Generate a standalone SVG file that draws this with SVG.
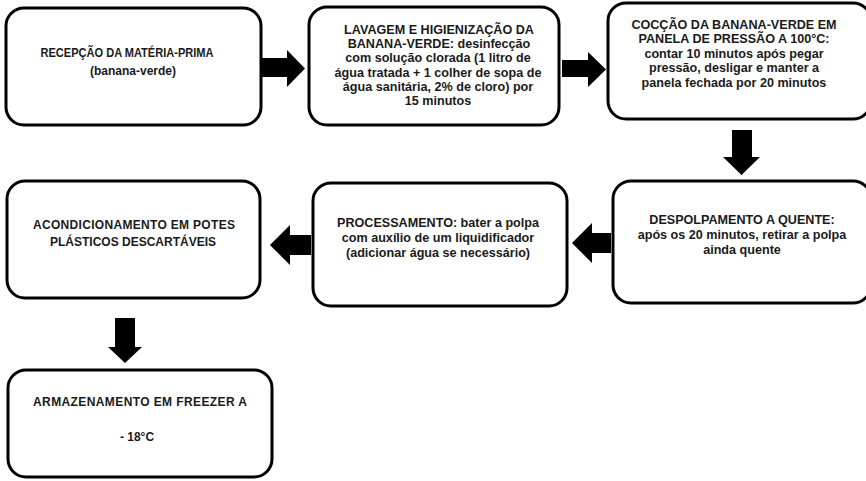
<svg xmlns="http://www.w3.org/2000/svg" width="866" height="481" viewBox="0 0 866 481">
<style>
.box{fill:#fff;stroke:#000;stroke-width:3}
text{font-family:"Liberation Sans",Arial,sans-serif;font-weight:bold;font-size:12.6px;fill:#1a1a1a;text-anchor:middle}
.s{font-size:12px}
.arr{fill:#000}
</style>
<rect width="866" height="481" fill="#fff"/>
<g id="n1"><rect class="box" x="6" y="8" width="255" height="117" rx="18"/>
<text class="s" x="127" y="57" textLength="173" lengthAdjust="spacingAndGlyphs">RECEPÇÃO DA MATÉRIA-PRIMA</text>
<text class="s" x="133" y="75">(banana-verde)</text></g>
<g id="n2"><rect class="box" x="309" y="7" width="250" height="118" rx="18"/>
<text x="439" y="34">LAVAGEM  E  HIGIENIZAÇÃO  DA</text>
<text x="439" y="48">BANANA-VERDE: desinfecção</text>
<text x="438" y="62">com solução clorada (1 litro de</text>
<text x="438" y="77">água tratada + 1 colher de sopa de</text>
<text x="438" y="91">água sanitária, 2% de cloro) por</text>
<text x="438" y="105">15 minutos</text></g>
<g id="n3"><rect class="box" x="608" y="3" width="263" height="116" rx="18"/>
<text x="734" y="29">COCÇÃO DA BANANA-VERDE EM</text>
<text x="734" y="43">PANELA DE PRESSÃO A 100°C:</text>
<text x="734" y="58">contar 10 minutos após pegar</text>
<text x="734" y="72">pressão, desligar e manter a</text>
<text x="734" y="87">panela fechada por 20 minutos</text></g>
<g id="n4"><rect class="box" x="7" y="181" width="253" height="117" rx="18"/>
<text class="s" x="134" y="229" textLength="202" lengthAdjust="spacing">ACONDICIONAMENTO  EM POTES</text>
<text class="s" x="133" y="246">PLÁSTICOS  DESCARTÁVEIS</text></g>
<g id="n5"><rect class="box" x="313" y="183" width="254" height="123" rx="18"/>
<text x="438" y="227">PROCESSAMENTO:  bater a polpa</text>
<text x="438" y="242">com auxílio de um liquidificador</text>
<text x="438" y="257">(adicionar água se necessário)</text></g>
<g id="n6"><rect class="box" x="613" y="181" width="258" height="122" rx="18"/>
<text x="742" y="224">DESPOLPAMENTO  A QUENTE:</text>
<text x="742" y="239">após os 20 minutos, retirar a polpa</text>
<text x="742" y="254">ainda quente</text></g>
<g id="n7"><rect class="box" x="8" y="370" width="264" height="107" rx="18"/>
<text class="s" x="140" y="406" textLength="214" lengthAdjust="spacing">ARMAZENAMENTO  EM FREEZER  A</text>
<text class="s" x="137" y="441">- 18°C</text></g>
<g id="connectors">
<polygon class="arr" points="262,58 287,58 287,50 305,68.5 287,87 287,77 262,77"/>
<polygon class="arr" points="562,60 588,60 588,52 606,69.5 588,87 588,77 562,77"/>
<polygon class="arr" points="732,130 752,130 752,157 760,157 741.5,175 723,157 732,157"/>
<polygon class="arr" points="611,233 592,233 592,223 572,243 592,263 592,253 611,253"/>
<polygon class="arr" points="311,235 290,235 290,225 270,245 290,265 290,255 311,255"/>
<polygon class="arr" points="115,318 135,318 135,347 142,347 125,363 108,347 115,347"/>
</g>
</svg>
